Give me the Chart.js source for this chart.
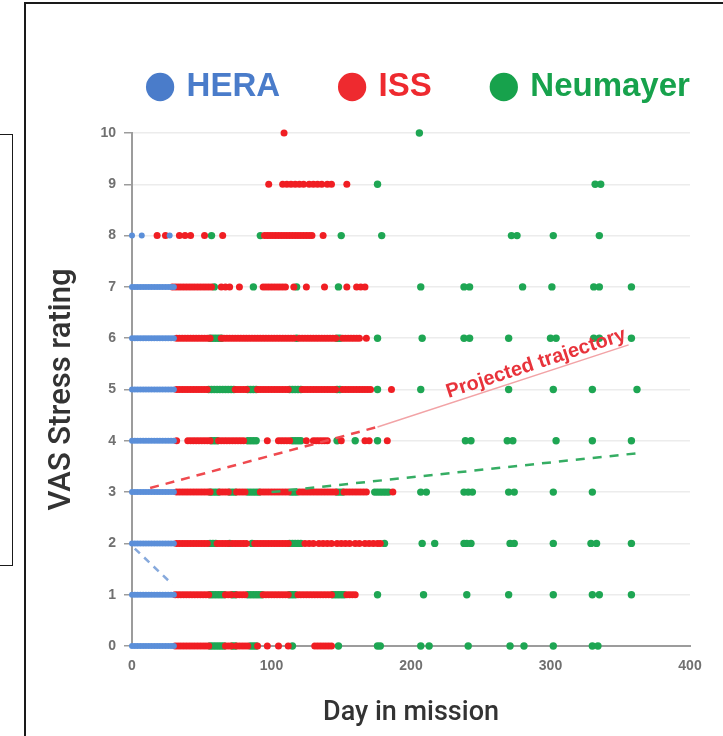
<!DOCTYPE html>
<html><head><meta charset="utf-8">
<script src="https://cdn.jsdelivr.net/npm/chart.js@4.4.1/dist/chart.umd.min.js"></script>
<style>
html,body{margin:0;padding:0;background:#fff;width:723px;height:736px;overflow:hidden;position:relative;}
#frame{position:absolute;left:24px;top:2px;width:800px;height:800px;border:2px solid #1a1a1a;}
#side{position:absolute;left:-10px;top:134px;width:21px;height:430px;border:1.5px solid #1a1a1a;}
#c{position:absolute;left:0;top:0;}
</style></head><body>
<div id="side"></div><div id="frame"></div>
<canvas id="c" width="723" height="736"></canvas>
<script>
// ---- data (day in mission per VAS rating row, index = rating 0..10) ----
const RATINGS = [0,1,2,3,4,5,6,7,8,9,10];
const X_TICKS = [0,100,200,300,400];
const SERIES_NAMES = ['HERA','ISS','Neumayer'];

const HERA_DAYS = [
  [0,2,4,6,8,10,12,14,16,18,20,22,24,26,28,30],
  [0,2,4,6,8,10,12,14,16,18,20,22,24,26,28,30],
  [0,2,4,6,8,10,12,14,16,18,20,22,24,26,28,30],
  [0,2,4,6,8,10,12,14,16,18,20,22,24,26,28,30],
  [0,2,4,6,8,10,12,14,16,18,20,22,24,26,28,30],
  [0,2,4,6,8,10,12,14,16,18,20,22,24,26,28,30],
  [0,2,4,6,8,10,12,14,16,18,20,22,24,26,28,30],
  [0,2,4,6,8,10,12,14,16,18,20,22,24,26,28,30],
  [0,7,27],
  [],
  []
];
const ISS_DAYS = [
  [31,33,35,37,39,41,43,45,47,49,51,53,55,67,69,71,75,77,79,81,83,90,97,105,112,131,133,135,137,139,141,143],
  [31,33,35,37,39,41,43,45,47,49,51,53,55,67,69,71,75,77,79,81,94,96,98,100,102,104,106,108,110,112,119,121,123,125,127,129,131,133,135,137,139,141,143,154,156,158,160],
  [32,34,36,38,40,42,44,46,48,50,52,54,61,63,65,67,69,72,74,76,78,80,82,88,90,92,94,96,98,100,102,104,106,108,110,112,124,127,130,134,137,140,143,147,150,153,156,160,163,167,170,173,176,178],
  [32,34,36,38,40,42,44,46,48,50,52,54,56,63,65,67,69,75,77,79,81,92,94,96,98,100,102,104,106,108,110,112,120,122,124,126,128,130,132,134,136,138,140,142,144,146,152,154,156,158,160,162,164,166,168,187],
  [32,40,42,44,46,48,50,52,54,56,62,64,66,68,70,72,74,76,78,80,97,105,107,109,111,113,125,130,132,134,136,138,140,150,167,170,183],
  [32,34,36,38,40,42,44,46,48,50,52,54,74,76,78,80,82,90,92,94,96,98,100,102,104,106,108,110,112,122,124,126,128,130,132,134,136,138,140,142,144,146,151,153,155,157,159,161,163,165,167,169,171,186],
  [32,34,36,38,40,42,44,46,48,50,52,54,56,64,66,68,70,72,74,76,78,80,82,84,86,88,90,92,94,96,98,100,102,104,106,108,110,112,114,116,120,122,124,126,128,130,132,134,136,138,140,142,144,146,151,153,155,157,159,161,163,168],
  [29,31,33,35,37,39,41,43,45,47,49,51,53,55,57,64,67,70,77,94,96,98,100,102,104,106,108,110,116,125,138,154,161,164,167],
  [18,24,34,38,42,52,65,95,97,99,101,103,105,107,109,111,113,115,117,119,121,123,125,127,129,137],
  [98,108,111,114,117,120,123,127,130,133,136,140,143,154],
  [109]
];
const NEU_DAYS = [
  [56,58,60,62,64,66,72,74,85,87,89,115,148,176,178,207,213,241,271,281,302,330,334],
  [56,58,60,62,64,66,72,74,83,85,87,89,91,93,113,115,117,144,146,148,150,152,176,209,240,270,302,330,335,358],
  [56,58,60,70,86,113,115,117,119,121,181,208,217,238,240,243,271,274,302,329,333,358],
  [56,58,60,62,70,72,74,83,85,87,89,91,114,116,118,147,149,151,174,176,178,180,182,184,207,211,238,241,244,270,274,302,330],
  [57,59,61,83,85,87,89,115,117,119,121,147,160,176,239,243,269,273,304,330,358],
  [55,57,59,61,63,65,67,69,71,73,83,85,87,89,113,115,117,119,121,147,149,176,207,270,302,330,362],
  [56,58,60,62,64,118,147,149,176,208,238,242,270,300,304,331,335,358],
  [59,87,118,148,207,238,242,280,301,331,335,358],
  [57,92,150,179,272,276,302,335],
  [176,332,336],
  [206]
];
// trend lines
const RED_TREND_X = [13, 176],   RED_TREND_Y = [3.08, 4.27];
const PINK_TREND_X = [176, 356], PINK_TREND_Y = [4.27, 5.87];
const GREEN_TREND_X = [100, 363], GREEN_TREND_Y = [3.0, 3.76];
const BLUE_TREND_X = [2, 29],    BLUE_TREND_Y = [1.9, 1.2];
const LABEL_TEXT = 'Projected trajectory';

// ---- build ----
function toPoints(rows){
  const pts=[];
  rows.forEach((days,i)=>days.forEach(d=>pts.push({x:d,y:RATINGS[i]})));
  return pts;
}
function pair(xs,ys){ return xs.map((v,i)=>({x:v,y:ys[i]})); }

const COLORS = {hera:'#5b8fd9', iss:'#f01e23', neu:'#1ea653'};
const LEGEND_TEXT = ['#4a7cca','#ee2a2f','#17a24c'];
const tickFont = {family:"'Liberation Sans Narrow','Liberation Sans',sans-serif", size:14, weight:'bold'};

const trajLabel = {
  id:'trajLabel',
  afterDatasetsDraw(chart){
    const {ctx, scales:{x,y}} = chart;
    const x1=x.getPixelForValue(PINK_TREND_X[0]), y1=y.getPixelForValue(PINK_TREND_Y[0]);
    const x2=x.getPixelForValue(PINK_TREND_X[1]), y2=y.getPixelForValue(PINK_TREND_Y[1]);
    const ang=Math.atan2(y2-y1,x2-x1), t=0.645;
    ctx.save();
    ctx.translate(x1+(x2-x1)*t, y1+(y2-y1)*t);
    ctx.rotate(ang);
    ctx.font="bold 20px 'Liberation Sans', sans-serif";
    ctx.fillStyle='#e8333b'; ctx.textAlign='center'; ctx.textBaseline='bottom';
    ctx.fillText(LABEL_TEXT,0,-1);
    ctx.restore();
  }
};

const lineDs = (xs,ys,color,width,dash)=>({type:'line',label:'_trend',data:pair(xs,ys),borderColor:color,borderWidth:width,borderDash:dash,pointRadius:0,fill:false,showLine:true});

new Chart(document.getElementById('c'),{
  type:'scatter',
  data:{datasets:[
    lineDs(RED_TREND_X,RED_TREND_Y,'#ef4a4f',2.5,[9,7]),
    lineDs(PINK_TREND_X,PINK_TREND_Y,'#f2a3a6',1.5,[]),
    lineDs(GREEN_TREND_X,GREEN_TREND_Y,'#35ad63',2.5,[9,8]),
    lineDs(BLUE_TREND_X,BLUE_TREND_Y,'#86a9dc',2.5,[7,6]),
    {label:SERIES_NAMES[0],data:toPoints(HERA_DAYS),backgroundColor:COLORS.hera,pointRadius:3,pointBorderWidth:0,clip:false},
    {label:SERIES_NAMES[1],data:toPoints(ISS_DAYS),backgroundColor:COLORS.iss,pointRadius:3.5,pointBorderWidth:0,clip:false},
    {label:SERIES_NAMES[2],data:toPoints(NEU_DAYS),backgroundColor:COLORS.neu,pointRadius:3.7,pointBorderWidth:0,clip:false}
  ]},
  options:{
    responsive:false, animation:false, devicePixelRatio:1,
    layout:{padding:{top:8.5,left:40,right:-77,bottom:0}},
    plugins:{
      tooltip:{enabled:false},
      legend:{
        position:'top', align:'center',
        labels:{
          usePointStyle:true, pointStyle:'circle', boxWidth:20, boxHeight:20, padding:62,
          font:{family:"'Liberation Sans',sans-serif", size:33, weight:'bold'},
          filter:(item)=>SERIES_NAMES.includes(item.text),
          generateLabels:(chart)=>{
            const items = Chart.defaults.plugins.legend.labels.generateLabels(chart);
            return items.map(it=>{
              const k = SERIES_NAMES.indexOf(it.text);
              if(k>=0){ it.fontColor=LEGEND_TEXT[k]; it.fillStyle=LEGEND_TEXT[k]; it.strokeStyle=LEGEND_TEXT[k]; it.lineWidth=0; }
              return it;
            });
          }
        }
      }
    },
    scales:{
      x:{type:'linear',min:0,max:400,
        afterBuildTicks:(s)=>{s.ticks=X_TICKS.map(v=>({value:v}));},
        ticks:{padding:12,font:tickFont,color:'#707070'},
        grid:{display:false,drawTicks:false},
        border:{display:true,color:'#9c9c9c',width:2},
        title:{display:true,text:'Day in mission',font:{family:"Roboto,sans-serif",size:27,weight:'500'},color:'#333',padding:{top:0,bottom:7}},
        afterFit:(s)=>{s.height=90;}
      },
      y:{type:'linear',min:0,max:10,
        afterBuildTicks:(s)=>{s.ticks=RATINGS.map(v=>({value:v}));},
        ticks:{padding:8,font:tickFont,color:'#707070'},
        grid:{color:'#ececec',lineWidth:1.5,tickColor:'#9c9c9c',tickLength:8},
        border:{display:true,color:'#9c9c9c',width:2},
        title:{display:true,text:'VAS Stress rating',font:{family:"Roboto,sans-serif",size:31,weight:'500'},color:'#333',padding:{top:4,bottom:0}},
        afterFit:(s)=>{s.width=92;}
      },
      xTop:{type:'linear',position:'top',display:true,grid:{display:false},ticks:{display:false},border:{display:false},afterFit:(s)=>{s.height=19.5;}},
      yRight:{type:'linear',position:'right',display:true,grid:{display:false},ticks:{display:false},border:{display:false},afterFit:(s)=>{s.width=110;}}
    }
  },
  plugins:[trajLabel]
});
</script>
</body></html>
